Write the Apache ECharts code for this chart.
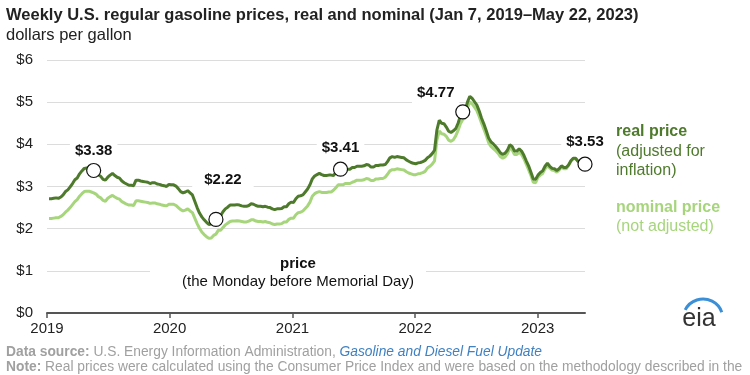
<!DOCTYPE html>
<html>
<head>
<meta charset="utf-8">
<script src="https://cdn.jsdelivr.net/npm/echarts@6/dist/echarts.min.js"></script>
<style>
  html, body { margin: 0; padding: 0; background: #fff; }
  #main { width: 750px; height: 375px; }
</style>
</head>
<body>
<div id="main"></div>
<script>
// weekly prices, dollars per gallon; each year starts on its first Monday
const nom2019 = [2.24,2.24,2.25,2.26, 2.26,2.29,2.33,2.39, 2.44,2.50,2.57,2.64, 2.69,2.77,2.83,2.88,2.89,
  2.89,2.87,2.85,2.82, 2.76,2.73,2.67,2.65, 2.72,2.76,2.79,2.75,2.72, 2.70,2.64,2.61,2.58,
  2.56,2.56,2.55,2.66,2.66, 2.65,2.64,2.63,2.62, 2.60,2.61,2.61,2.59, 2.58,2.56,2.55,2.54,2.58];
const real2019 = [2.71,2.71,2.72,2.73, 2.72,2.75,2.80,2.88, 2.92,2.99,3.07,3.16, 3.20,3.30,3.37,3.43,3.44,
  3.43,3.41,3.38,3.35, 3.28,3.24,3.17,3.15, 3.22,3.27,3.31,3.26,3.22, 3.20,3.13,3.09,3.06,
  3.03,3.03,3.02,3.15,3.15, 3.13,3.12,3.11,3.10, 3.07,3.09,3.09,3.06, 3.05,3.03,3.02,3.00,3.05];

const nom2020 = [2.58,2.58,2.55,2.50, 2.45,2.42,2.44,2.47, 2.42,2.38,2.25,2.12,2.01, 1.92,1.86,1.81,1.77,
  1.78,1.84,1.87,1.96, 1.96,2.03,2.09,2.13,2.17, 2.18,2.18,2.19,2.18, 2.17,2.16,2.16,2.18,2.21,
  2.21,2.18,2.17,2.17, 2.16,2.17,2.15,2.14, 2.11,2.10,2.11,2.11,2.12, 2.16,2.16,2.22,2.25];
const real2020 = [3.04,3.04,3.01,2.95, 2.88,2.85,2.87,2.90, 2.85,2.80,2.65,2.50,2.37, 2.28,2.21,2.15,2.10,
  2.11,2.18,2.22,2.32, 2.31,2.40,2.47,2.51,2.56, 2.56,2.56,2.57,2.56, 2.54,2.53,2.53,2.55,2.59,
  2.58,2.55,2.53,2.53, 2.52,2.53,2.51,2.50, 2.47,2.45,2.47,2.47,2.48, 2.52,2.52,2.59,2.63];

const nom2021 = [2.25,2.33,2.38,2.39, 2.42,2.48,2.54,2.63, 2.77,2.83,2.86,2.88,2.86, 2.86,2.86,2.87,2.87,
  2.91,2.97,3.04,3.04,3.04, 3.07,3.07,3.07,3.10, 3.12,3.15,3.15,3.15, 3.16,3.19,3.18,3.14,3.14,
  3.18,3.18,3.19,3.19, 3.22,3.29,3.37,3.40, 3.40,3.42,3.41,3.40,3.39, 3.35,3.32,3.30,3.28];
const real2021 = [2.62,2.71,2.77,2.78, 2.80,2.87,2.94,3.04, 3.18,3.25,3.28,3.31,3.28, 3.26,3.26,3.27,3.27,
  3.26,3.33,3.41,3.41,3.41, 3.41,3.41,3.41,3.45, 3.45,3.48,3.48,3.48, 3.49,3.52,3.51,3.46,3.46,
  3.50,3.50,3.51,3.51, 3.52,3.59,3.68,3.71, 3.69,3.71,3.70,3.69,3.68, 3.63,3.60,3.57,3.55];

const nom2022 = [3.28,3.30,3.31,3.33,3.36, 3.44,3.48,3.53,3.61, 4.10,4.32,4.25,4.24, 4.19,4.10,4.07,4.11,
  4.20,4.33,4.49,4.59,4.62, 4.87,5.01,4.96,4.88, 4.80,4.66,4.50,4.36, 4.21,4.04,3.95,3.90,3.85,
  3.79,3.71,3.67,3.70, 3.78,3.91,3.87,3.76,3.76, 3.81,3.76,3.66,3.53, 3.40,3.26,3.10,3.09];
const real2022 = [3.54,3.56,3.57,3.59,3.62, 3.68,3.72,3.78,3.86, 4.34,4.57,4.50,4.49, 4.41,4.31,4.28,4.32,
  4.37,4.50,4.67,4.77,4.80, 5.00,5.14,5.09,5.01, 4.93,4.79,4.62,4.48, 4.32,4.15,4.06,4.01,3.95,
  3.88,3.80,3.76,3.79, 3.86,3.99,3.95,3.84,3.84, 3.89,3.84,3.74,3.61, 3.49,3.34,3.18,3.17];

const nom2023 = [3.22,3.27,3.31,3.42,3.49, 3.44,3.39,3.38,3.34, 3.39,3.46,3.42,3.42, 3.50,3.60,3.66,3.66,
  3.60,3.54,3.54,3.53];
const real2023 = [3.27,3.33,3.37,3.48,3.55, 3.48,3.43,3.42,3.38, 3.42,3.49,3.45,3.45, 3.51,3.61,3.67,3.67,
  3.60,3.54,3.54,3.53];

// Monday before Memorial Day
const memorialDates = ['2019-05-20', '2020-05-18', '2021-05-24', '2022-05-23', '2023-05-22'];
const memorialValues = [3.38, 2.22, 3.41, 4.77, 3.53];

const yTicks = [0, 1, 2, 3, 4, 5, 6];

const nominal = [].concat(nom2019, nom2020, nom2021, nom2022, nom2023);
const real = [].concat(real2019, real2020, real2021, real2022, real2023);

// weekly dates starting Monday Jan 7, 2019
const weeks = nominal.map((_, i) => new Date(2019, 0, 7 + 7 * i).getTime());

const DARK = '#4e7a2c';
const LIGHT = '#a6d57c';
const FONT = "'Liberation Sans', Arial, sans-serif";

// label placement for each annotated point
const labelOffsets = [[0, -20], [7, -40], [0, -21], [-27, -19], [0, -22]];

const chart = echarts.init(document.getElementById('main'));

const option = {
  animation: false,
  textStyle: { fontFamily: FONT },
  grid: { left: 47, right: 165, top: 60, bottom: 62 },
  xAxis: {
    type: 'time',
    min: new Date(2019, 0, 1).getTime(),
    max: new Date(2023, 4, 22).getTime(),
    minInterval: 365 * 24 * 3600 * 1000,
    maxInterval: 366 * 24 * 3600 * 1000,
    axisLine: { lineStyle: { color: '#555', width: 2 } },
    axisTick: { show: true, length: 5, lineStyle: { color: '#555', width: 1.5 } },
    axisLabel: {
      formatter: '{yyyy}', color: '#222', fontSize: 15, margin: 8,
      fontFamily: FONT, showMaxLabel: false
    },
    splitLine: { show: false }
  },
  yAxis: {
    type: 'value',
    min: yTicks[0],
    max: yTicks[yTicks.length - 1],
    interval: 1,
    axisLine: { show: false },
    axisTick: { show: false },
    axisLabel: { formatter: '${value}', color: '#222', fontSize: 15, margin: 14, fontFamily: FONT },
    splitLine: { lineStyle: { color: '#dcdcdc', width: 1 } }
  },
  series: [
    {
      name: 'nominal price',
      type: 'line',
      data: weeks.map((t, i) => [t, nominal[i]]),
      showSymbol: false,
      lineStyle: { color: LIGHT, width: 3 },
      z: 2
    },
    {
      name: 'real price',
      type: 'line',
      data: weeks.map((t, i) => [t, real[i]]),
      showSymbol: false,
      lineStyle: { color: DARK, width: 3 },
      z: 3
    },
    {
      type: 'scatter',
      symbol: 'circle',
      symbolSize: 14,
      z: 5,
      itemStyle: { color: '#fff', borderColor: '#111', borderWidth: 1.2, opacity: 1 },
      data: memorialDates.map((d, i) => ({
        value: [new Date(d + 'T00:00:00').getTime(), memorialValues[i]],
        label: {
          show: true,
          position: 'inside',
          offset: labelOffsets[i],
          formatter: '$' + memorialValues[i].toFixed(2),
          color: '#111',
          fontWeight: 'bold',
          fontSize: 15,
          fontFamily: FONT,
          backgroundColor: '#fff',
          padding: i === 1 ? [3, 12] : [4, 5]
        }
      }))
    }
  ],
  graphic: [
    {
      type: 'text', left: 6, top: 7,
      style: {
        text: 'Weekly U.S. regular gasoline prices, real and nominal (Jan 7, 2019\u2013May 22, 2023)',
        font: "bold 16.5px " + FONT, fill: '#222'
      }
    },
    {
      type: 'text', left: 6, top: 27,
      style: { text: 'dollars per gallon', font: "16.5px " + FONT, fill: '#222' }
    },
    { type: 'rect', shape: { x: 150, y: 255, width: 276, height: 36 }, style: { fill: '#fff' }, z: 10 },
    {
      type: 'text', x: 298, y: 264, z: 11,
      style: { text: 'price', font: "bold 15px " + FONT, fill: '#111', align: 'center', verticalAlign: 'middle' }
    },
    {
      type: 'text', x: 298, y: 282, z: 11,
      style: { text: '(the Monday before Memorial Day)', font: "15px " + FONT, fill: '#111', align: 'center', verticalAlign: 'middle' }
    },
    { type: 'text', x: 616, y: 132, style: { text: 'real price', font: "bold 16px " + FONT, fill: DARK, verticalAlign: 'middle' } },
    { type: 'text', x: 616, y: 152, style: { text: '(adjusted for', font: "16px " + FONT, fill: DARK, verticalAlign: 'middle' } },
    { type: 'text', x: 616, y: 171, style: { text: 'inflation)', font: "16px " + FONT, fill: DARK, verticalAlign: 'middle' } },
    { type: 'text', x: 616, y: 208, style: { text: 'nominal price', font: "bold 16px " + FONT, fill: LIGHT, verticalAlign: 'middle' } },
    { type: 'text', x: 616, y: 227, style: { text: '(not adjusted)', font: "16px " + FONT, fill: LIGHT, verticalAlign: 'middle' } },
    // eia logo
    {
      type: 'arc',
      shape: { cx: 703, cy: 319, r: 20, startAngle: -2.67, endAngle: -0.35 },
      style: { stroke: '#3a8fd6', lineWidth: 3, fill: null }
    },
    {
      type: 'text', x: 699, y: 319,
      style: { text: 'eia', font: "25px " + FONT, fill: '#333', align: 'center', verticalAlign: 'middle' }
    },
    {
      type: 'text', x: 6, y: 352,
      style: {
        text: '{b|Data source:} U.S. Energy Information Administration, {i|Gasoline and Diesel Fuel Update}',
        font: "13.8px " + FONT, fill: '#a0a0a0', verticalAlign: 'middle',
        rich: {
          b: { fontWeight: 'bold', fill: '#a0a0a0', fontSize: 13.8, fontFamily: FONT },
          i: { fontStyle: 'italic', fill: '#3f81c2', fontSize: 13.8, fontFamily: FONT }
        }
      }
    },
    {
      type: 'text', x: 6, y: 367,
      style: {
        text: '{b|Note:} Real prices were calculated using the Consumer Price Index and were based on the methodology described in the',
        font: "13.8px " + FONT, fill: '#a0a0a0', verticalAlign: 'middle',
        rich: { b: { fontWeight: 'bold', fill: '#a0a0a0', fontSize: 13.8, fontFamily: FONT } }
      }
    }
  ]
};

chart.setOption(option);
window.addEventListener('resize', () => { chart.resize(); });
</script>
</body>
</html>
